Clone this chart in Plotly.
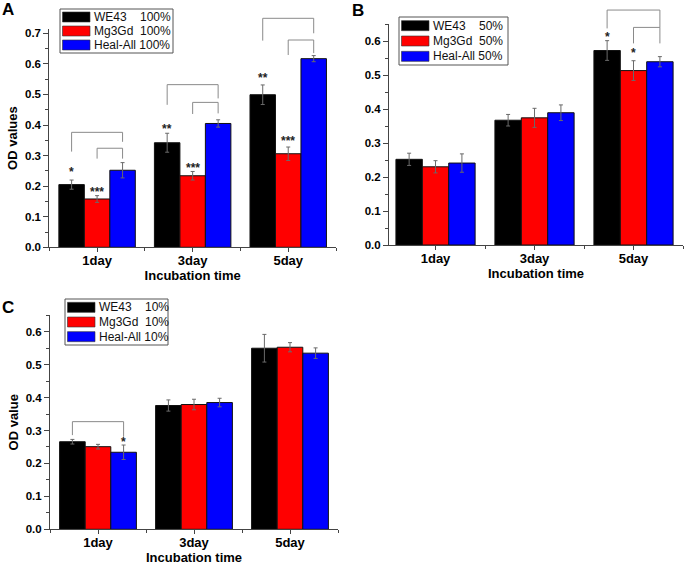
import plotly.graph_objects as go

# ---------------- data ----------------
categories = ["1day", "3day", "5day"]
series_names = ["WE43", "Mg3Gd", "Heal-All"]
series_colors = ["#000000", "#ff0000", "#0000ff"]

# Panel A : 100 %
a_we43 = [0.205, 0.342, 0.499]
a_we43_err = [0.015, 0.031, 0.032]
a_mg3gd = [0.158, 0.234, 0.306]
a_mg3gd_err = [0.011, 0.014, 0.022]
a_heal = [0.252, 0.405, 0.617]
a_heal_err = [0.025, 0.012, 0.010]

# Panel B : 50 %
b_we43 = [0.252, 0.367, 0.572]
b_we43_err = [0.018, 0.017, 0.029]
b_mg3gd = [0.230, 0.374, 0.513]
b_mg3gd_err = [0.018, 0.028, 0.029]
b_heal = [0.241, 0.389, 0.539]
b_heal_err = [0.027, 0.023, 0.015]

# Panel C : 10 %
c_we43 = [0.266, 0.376, 0.550]
c_we43_err = [0.007, 0.017, 0.042]
c_mg3gd = [0.251, 0.379, 0.553]
c_mg3gd_err = [0.007, 0.016, 0.014]
c_heal = [0.234, 0.385, 0.535]
c_heal_err = [0.022, 0.013, 0.016]

NB = "\u00a0"
legend_a = ["WE43" + NB * 4 + "100%", "Mg3Gd" + NB * 2 + "100%", "Heal-All" + NB + "100%"]
legend_b = ["WE43" + NB * 4 + "50%", "Mg3Gd" + NB * 2 + "50%", "Heal-All" + NB + "50%"]
legend_c = ["WE43" + NB * 4 + "10%", "Mg3Gd" + NB * 2 + "10%", "Heal-All" + NB + "10%"]

# significance marks: (group, series, text, y)
stars_a = [(0, 0, "*", 0.256), (0, 1, "***", 0.190), (1, 0, "**", 0.397),
           (1, 1, "***", 0.270), (2, 0, "**", 0.565), (2, 1, "***", 0.357)]
stars_b = [(2, 0, "*", 0.620), (2, 1, "*", 0.574)]
stars_c = [(0, 2, "*", 0.273)]

# brackets: (group, from series, to series, top, left leg end, right leg end)
brackets_a = [(0, 0, 2, 0.376, 0.313, 0.345), (0, 1, 2, 0.324, 0.290, 0.290),
              (1, 0, 2, 0.532, 0.466, 0.487), (1, 1, 2, 0.474, 0.436, 0.438),
              (2, 0, 2, 0.749, 0.676, 0.700), (2, 1, 2, 0.678, 0.629, 0.635)]
brackets_b = [(2, 0, 2, 0.691, 0.637, 0.640), (2, 1, 2, 0.640, 0.593, 0.593)]
brackets_c = [(0, 0, 2, 0.327, 0.286, 0.281)]

# ---------------- layout geometry ----------------
W, H = 685, 566
BARGAP = 0.2
FONT = "Liberation Sans, Arial, sans-serif"

panels = {
    "A": dict(ax="", xpx=(49.3, 336.0), ypx=(29.0, 247.3), xr=(-0.5, 2.5), yr=(0, 0.714),
              vals=[(a_we43, a_we43_err), (a_mg3gd, a_mg3gd_err), (a_heal, a_heal_err)],
              labels=legend_a, lbox=(60, 9, 113, 44), ytitle="OD values",
              stars=stars_a, brackets=brackets_a),
    "B": dict(ax="2", xpx=(389.0, 683.0), ypx=(24.0, 245.0), xr=(-0.47, 2.5), yr=(0, 0.65),
              vals=[(b_we43, b_we43_err), (b_mg3gd, b_mg3gd_err), (b_heal, b_heal_err)],
              labels=legend_b, lbox=(399, 17, 109, 48), ytitle="",
              stars=stars_b, brackets=brackets_b),
    "C": dict(ax="3", xpx=(50.0, 338.0), ypx=(315.3, 529.3), xr=(-0.5, 2.5), yr=(0, 0.65),
              vals=[(c_we43, c_we43_err), (c_mg3gd, c_mg3gd_err), (c_heal, c_heal_err)],
              labels=legend_c, lbox=(65, 299, 103, 46), ytitle="OD value",
              stars=stars_c, brackets=brackets_c),
}

fig = go.Figure()
xpos = list(range(len(categories)))
n = len(series_names)
bar_w = (1 - BARGAP) / n


def offset(s):
    return (s - (n - 1) / 2) * bar_w


def px_x(v):
    return v / W


def px_y(v):
    return 1 - v / H


layout_axes = {}
shapes = []
annotations = []

for key, p in panels.items():
    ax = p["ax"]
    xname, yname = "x" + ax, "y" + ax
    for s in range(n):
        vals, errs = p["vals"][s]
        fig.add_trace(go.Bar(
            x=xpos, y=vals, name=p["labels"][s], xaxis=xname, yaxis=yname,
            marker=dict(color=series_colors[s], line=dict(color="#111111", width=1)),
            error_y=dict(type="data", array=errs, visible=True, color="#6a6a6a",
                         thickness=1, width=2),
            showlegend=False, hovertemplate="%{x}: %{y}<extra></extra>"))

    xd = [p["xpx"][0] / W, p["xpx"][1] / W]
    yd = [1 - p["ypx"][1] / H, 1 - p["ypx"][0] / H]
    layout_axes["xaxis" + ax] = dict(
        domain=xd, range=list(p["xr"]), anchor=yname, tickmode="array", tickvals=xpos,
        ticktext=categories, ticks="outside", ticklen=4, tickwidth=1, tickcolor="#444",
        ticklabelstandoff=-3,
        showline=True, linecolor="#444", linewidth=1, showgrid=False, zeroline=False,
        tickfont=dict(family=FONT, size=13, color="#000", weight="bold"),
        minor=dict(tickvals=[-0.5, 0.5, 1.5, 2.5], ticks="outside", ticklen=3,
                   tickcolor="#444", showgrid=False),
        title=dict(text="Incubation time", standoff=3,
                   font=dict(family=FONT, size=13, color="#000", weight="bold")),
        automargin=False, fixedrange=True)
    layout_axes["yaxis" + ax] = dict(
        domain=yd, range=list(p["yr"]), anchor=xname, dtick=0.1, tick0=0, tickformat=".1f",
        ticks="outside", ticklen=5, tickwidth=1, tickcolor="#444",
        showline=True, linecolor="#444", linewidth=1, showgrid=False, zeroline=False,
        tickfont=dict(family=FONT, size=11.5, color="#000", weight="bold"),
        minor=dict(dtick=0.05, ticks="outside", ticklen=3, tickcolor="#444", showgrid=False),
        title=dict(text=p["ytitle"], standoff=4,
                   font=dict(family=FONT, size=13, color="#000", weight="bold")),
        automargin=False, fixedrange=True)

    # legend box (drawn from the series names / colours)
    lx, ly, lw, lh = p["lbox"]
    shapes.append(dict(type="rect", xref="paper", yref="paper",
                       x0=px_x(lx), x1=px_x(lx + lw), y0=px_y(ly + lh), y1=px_y(ly),
                       line=dict(color="#555", width=1), fillcolor="white", layer="above"))
    row_h = (lh - 2) / 3
    for s in range(n):
        cy = ly + 1 + row_h * (s + 0.5)
        shapes.append(dict(type="rect", xref="paper", yref="paper",
                           x0=px_x(lx + 2.5), x1=px_x(lx + 30), y0=px_y(cy + 5), y1=px_y(cy - 5),
                           line=dict(color="#333", width=0.6), fillcolor=series_colors[s],
                           layer="above"))
        annotations.append(dict(
            x=px_x(lx + 31.5), y=px_y(cy), xref="paper", yref="paper", text=p["labels"][s],
            showarrow=False, xanchor="left", yanchor="middle",
            font=dict(family=FONT, size=12, color="#111")))

    # helpers in axis-domain fractions (lets brackets rise above the axis top)
    def dx(v, p=p):
        return (v - p["xr"][0]) / (p["xr"][1] - p["xr"][0])

    def dy(v, p=p):
        return (v - p["yr"][0]) / (p["yr"][1] - p["yr"][0])

    for g, s0, s1, top, lb, rb in p["brackets"]:
        x0 = dx(xpos[g] + offset(s0))
        x1 = dx(xpos[g] + offset(s1))
        line = dict(color="#8a8a8a", width=1)
        kw = dict(type="line", xref=xname + " domain", yref=yname + " domain", line=line)
        shapes.append(dict(x0=x0, x1=x0, y0=dy(lb), y1=dy(top), **kw))
        shapes.append(dict(x0=x0, x1=x1, y0=dy(top), y1=dy(top), **kw))
        shapes.append(dict(x0=x1, x1=x1, y0=dy(top), y1=dy(rb), **kw))

    for g, s, txt, yv in p["stars"]:
        annotations.append(dict(
            x=xpos[g] + offset(s), y=yv, xref=xname, yref=yname, text=txt,
            showarrow=False, yanchor="middle", yshift=-3,
            font=dict(family=FONT, size=12, color="#222", weight="bold")))

# panel letters
for letter, (px, py) in {"A": (8, 9), "B": (358, 10), "C": (8, 307)}.items():
    annotations.append(dict(
        x=px / W, y=1 - py / H, xref="paper", yref="paper", text=letter, showarrow=False,
        xanchor="center", yanchor="middle",
        font=dict(family=FONT, size=17, color="#000", weight="bold")))

fig.update_layout(
    width=W, height=H, margin=dict(l=0, r=0, t=0, b=0), autosize=False,
    paper_bgcolor="white", plot_bgcolor="white",
    barmode="group", bargap=BARGAP, bargroupgap=0,
    shapes=shapes, annotations=annotations, showlegend=False,
    **layout_axes)

fig.write_html("out.html", config={"displayModeBar": False},
               post_script="document.body.style.margin='0px';")
